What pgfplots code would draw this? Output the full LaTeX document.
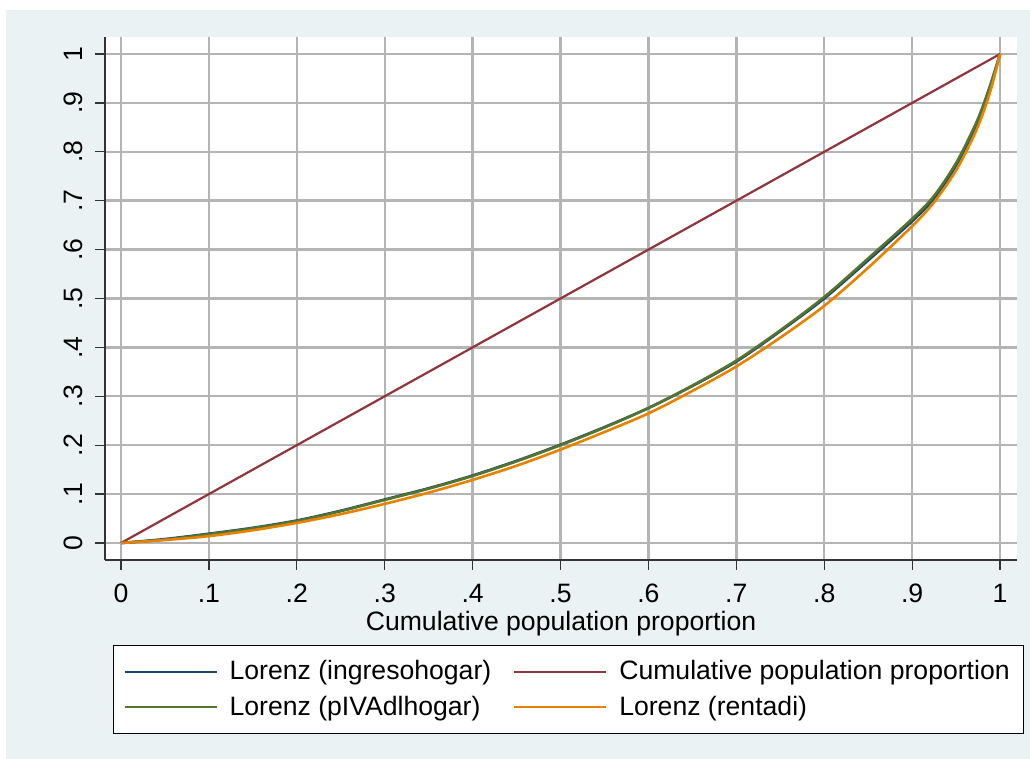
\documentclass[border=0pt]{standalone}
\usepackage{fontspec}
\setmainfont{Liberation Sans}
\usepackage{pgfplots}
\usepackage{pgfplotstable}
\pgfplotsset{compat=1.18}

\definecolor{stbg}{RGB}{234,242,243}
\definecolor{stnavy}{RGB}{26,71,111}
\definecolor{stmaroon}{RGB}{144,53,59}
\definecolor{stgreen}{RGB}{85,117,47}
\definecolor{storange}{RGB}{232,128,0}
\definecolor{stgrid}{RGB}{180,180,180}

% Lorenz curves
\pgfplotstableread{
x      ingreso  piva    rentadi
0      0        0       0
0.05   0.008    0.007   0.006
0.10   0.019    0.018   0.014
0.15   0.031    0.030   0.026
0.20   0.046    0.045   0.041
0.25   0.066    0.065   0.059
0.30   0.089    0.088   0.080
0.35   0.112    0.111   0.103
0.40   0.138    0.137   0.129
0.45   0.168    0.167   0.158
0.50   0.201    0.200   0.191
0.55   0.237    0.236   0.227
0.60   0.276    0.276   0.265
0.65   0.321    0.322   0.311
0.70   0.371    0.373   0.361
0.75   0.433    0.435   0.420
0.80   0.500    0.503   0.485
0.85   0.578    0.582   0.563
0.90   0.658    0.663   0.648
0.925  0.705    0.710   0.697
0.95   0.772    0.777   0.762
0.97   0.843    0.848   0.832
0.98   0.887    0.891   0.876
0.99   0.940    0.943   0.930
1      1        1       1
}\lorenz

\pgfplotstableread{
x   y
0   0
1   1
}\diag

\begin{document}
\begin{tikzpicture}
\useasboundingbox (-52.5pt,-99.5pt) rectangle (462.5pt,280pt);
\fill[white] (-52.5pt,-99.5pt) rectangle (462.5pt,280pt);
\fill[stbg] (-49.5pt,-99.5pt) rectangle (462.5pt,275pt);
\begin{axis}[
    at={(0pt,0pt)}, anchor=south west,
    scale only axis, width=456pt, height=261.5pt,
    xmin=-0.0182, xmax=1.0193, ymin=-0.0348, ymax=1.0348,
    axis x line*=bottom, axis y line*=left,
    axis line style={color=black!80, line width=0.6pt},
    axis background/.style={fill=white},
    tick align=outside, major tick length=5pt,
    tick style={color=black!80, line width=0.6pt},
    xtick={0,0.1,0.2,0.3,0.4,0.5,0.6,0.7,0.8,0.9,1},
    ytick={0,0.1,0.2,0.3,0.4,0.5,0.6,0.7,0.8,0.9,1},
    xticklabels={0,.1,.2,.3,.4,.5,.6,.7,.8,.9,1},
    yticklabels={0,.1,.2,.3,.4,.5,.6,.7,.8,.9,1},
    /pgf/number format/assume math mode=true,
    grid=major,
    major grid style={color=stgrid, line width=1.2pt},
    font=\fontsize{13.3}{16}\selectfont,
    yticklabel style={rotate=90, anchor=south},
    xticklabel shift=3.5pt, yticklabel shift=2.5pt,
    xlabel={Cumulative population proportion},
    xlabel style={at={(axis description cs:0.5,-0.085)}, anchor=north},
    legend columns=2,
    legend cell align=left,
    legend image code/.code={\draw[#1, line width=1pt] (0pt,0pt) -- (46pt,0pt);},
    legend style={
        at={(axis description cs:0.00877,-0.1625)}, anchor=north west,
        draw=black, line width=0.6pt, fill=white,
        inner xsep=5pt, inner ysep=5.5pt,
        row sep=2.5pt,
        font=\fontsize{13.3}{16}\selectfont,
        /tikz/every odd column/.append style={column sep=4pt},
        /tikz/every even column/.append style={column sep=9pt},
    },
]
\addplot[stnavy, line width=1.3pt, smooth] table[x=x, y=ingreso] {\lorenz};
\addlegendentry{Lorenz (ingresohogar)}
\addplot[stmaroon, line width=1.1pt] table[x=x, y=y] {\diag};
\addlegendentry{Cumulative population proportion}
\addplot[stgreen, line width=1.3pt, smooth] table[x=x, y=piva] {\lorenz};
\addlegendentry{Lorenz (pIVAdlhogar)}
\addplot[storange, line width=1.3pt, smooth] table[x=x, y=rentadi] {\lorenz};
\addlegendentry{Lorenz (rentadi)}
\end{axis}
\end{tikzpicture}
\end{document}
